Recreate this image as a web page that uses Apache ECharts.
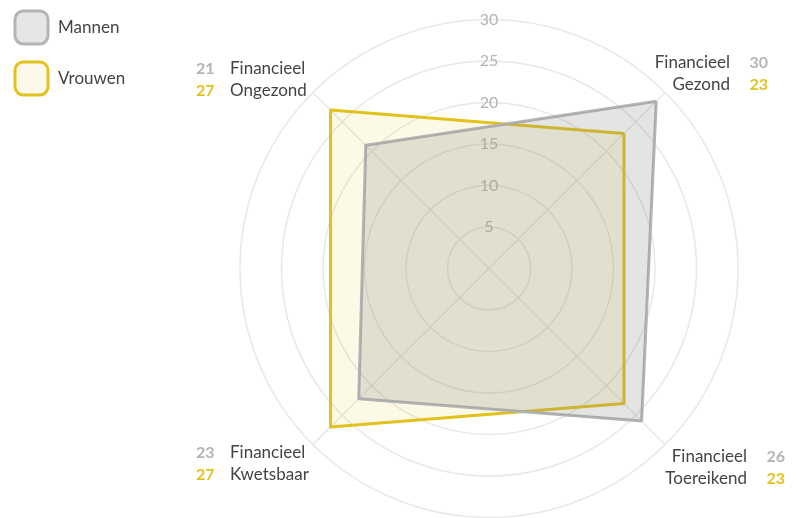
<!DOCTYPE html>
<html>
<head>
<meta charset="utf-8">
<script src="https://cdn.jsdelivr.net/npm/echarts@6/dist/echarts.min.js"></script>
<style>
  html, body { margin: 0; padding: 0; background: #fff; }
  #radarchart { width: 797px; height: 518px; }
</style>
</head>
<body>
<div id="radarchart"></div>
<script>
// data
var indicators = ['Financieel\nGezond', 'Financieel\nOngezond', 'Financieel\nKwetsbaar', 'Financieel\nToereikend'];
// plotted values
var mannen = [28.5, 21, 22.2, 26];
var vrouwen = [23, 27, 27, 23];
// values printed next to the axis names
var mannenLabels = [30, 21, 23, 26];
var vrouwenLabels = [23, 27, 27, 23];
var ringTicks = [5, 10, 15, 20, 25, 30];

var grey = '#b4b4b4';
var yellow = '#e2c21c';
var FONT = 'Lato';

var dom = document.getElementById('radarchart');
var myChart = echarts.init(dom, null, { renderer: 'canvas' });

// spacing for each corner label (top/bottom spacer lines, lead/trail space)
var nameLayout = [
  { side: 'right', top: 0, bottom: 76, lead: 0 },
  { side: 'left', top: 0, bottom: 64, trail: 18 },
  { side: 'left', top: 77, bottom: 0, trail: 18 },
  { side: 'right', top: 85, bottom: 0, lead: 17 }
];

function nameFormatter(value) {
  var i = indicators.indexOf(value);
  var parts = value.split('\n');
  var L = nameLayout[i];
  var rows = [];
  if (L.top) rows.push('{sp' + i + '| }');
  if (L.side === 'right') {
    rows.push('{ld' + i + '| }{n|' + parts[0] + '}{g|}{mr|' + mannenLabels[i] + '}');
    rows.push('{ld' + i + '| }{n|' + parts[1] + '}{g|}{vr|' + vrouwenLabels[i] + '}');
  } else {
    rows.push('{m|' + mannenLabels[i] + '}{nl|' + parts[0] + '}{tr|}');
    rows.push('{v|' + vrouwenLabels[i] + '}{nl|' + parts[1] + '}{tr|}');
  }
  if (L.bottom) rows.push('{sb' + i + '| }');
  return rows.join('\n');
}

var rich = {
  n: { width: 84, align: 'right', color: '#444', fontSize: 17, fontFamily: FONT, lineHeight: 22 },
  nl: { width: 84, align: 'left', color: '#444', fontSize: 17, fontFamily: FONT, lineHeight: 22 },
  g: { width: 18, align: 'right', lineHeight: 22 },
  tr: { width: 18, lineHeight: 22 },
  m: { width: 34, align: 'left', color: grey, fontSize: 16, fontWeight: 'bold', fontFamily: FONT, lineHeight: 22 },
  v: { width: 34, align: 'left', color: yellow, fontSize: 16, fontWeight: 'bold', fontFamily: FONT, lineHeight: 22 },
  mr: { width: 20, align: 'right', color: grey, fontSize: 16, fontWeight: 'bold', fontFamily: FONT, lineHeight: 22 },
  vr: { width: 20, align: 'right', color: yellow, fontSize: 16, fontWeight: 'bold', fontFamily: FONT, lineHeight: 22 }
};
nameLayout.forEach(function (L, i) {
  rich['sp' + i] = { lineHeight: L.top || 1, fontSize: 1 };
  rich['sb' + i] = { lineHeight: L.bottom || 1, fontSize: 1 };
  rich['ld' + i] = { width: L.lead || 0, lineHeight: 22, fontSize: 1 };
});

var option = {
  backgroundColor: '#fff',
  legend: {
    orient: 'vertical',
    left: 13.5,
    top: 9.5,
    padding: 0,
    itemWidth: 33,
    itemHeight: 33,
    itemGap: 15,
    icon: 'roundRect',
    textStyle: { color: '#444', fontSize: 17, fontFamily: FONT, padding: [0, 0, 0, 5] },
    data: [
      { name: 'Mannen', itemStyle: { color: '#e5e5e5', borderColor: grey, borderWidth: 3 } },
      { name: 'Vrouwen', itemStyle: { color: '#fbf9e9', borderColor: yellow, borderWidth: 3 } }
    ]
  },
  radar: {
    center: [489, 268.5],
    radius: 249,
    startAngle: 45,
    shape: 'circle',
    splitNumber: 6,
    axisNameGap: -27,
    indicator: indicators.map(function (n) { return { name: n, min: 0, max: 30 }; }),
    axisName: {
      formatter: nameFormatter,
      rich: rich,
      fontFamily: FONT,
      fontSize: 16
    },
    axisLine: { lineStyle: { color: '#e8e8e8', width: 1.5 } },
    splitLine: { lineStyle: { color: '#e8e8e8', width: 1.5 } },
    splitArea: { show: false },
    axisTick: { show: false },
    axisLabel: { show: false }
  },
  // vertical scale labels 5..30
  polar: { center: [489, 268.5], radius: 249 },
  angleAxis: { type: 'value', min: 0, max: 360, startAngle: 90, show: false },
  radiusAxis: {
    type: 'value',
    min: 0,
    max: ringTicks[ringTicks.length - 1],
    interval: ringTicks[1] - ringTicks[0],
    axisLine: { show: false },
    axisTick: { show: false },
    splitLine: { show: false },
    axisLabel: {
      showMinLabel: false,
      margin: 0,
      align: 'center',
      verticalAlign: 'middle',
      color: '#b4b4b4',
      fontSize: 16,
      fontFamily: FONT
    }
  },
  series: [{
    type: 'radar',
    symbol: 'none',
    z: 3,
    data: [
      {
        name: 'Vrouwen',
        value: vrouwen,
        lineStyle: { color: yellow, width: 3, join: 'round' },
        itemStyle: { color: yellow },
        areaStyle: { color: 'rgba(228,200,20,0.1)', opacity: 1 }
      },
      {
        name: 'Mannen',
        value: mannen,
        lineStyle: { color: grey, width: 3, join: 'round' },
        itemStyle: { color: grey },
        areaStyle: { color: 'rgba(140,140,130,0.23)', opacity: 1 }
      }
    ]
  }]
};

myChart.setOption(option);
window.addEventListener('resize', myChart.resize);
</script>
</body>
</html>
